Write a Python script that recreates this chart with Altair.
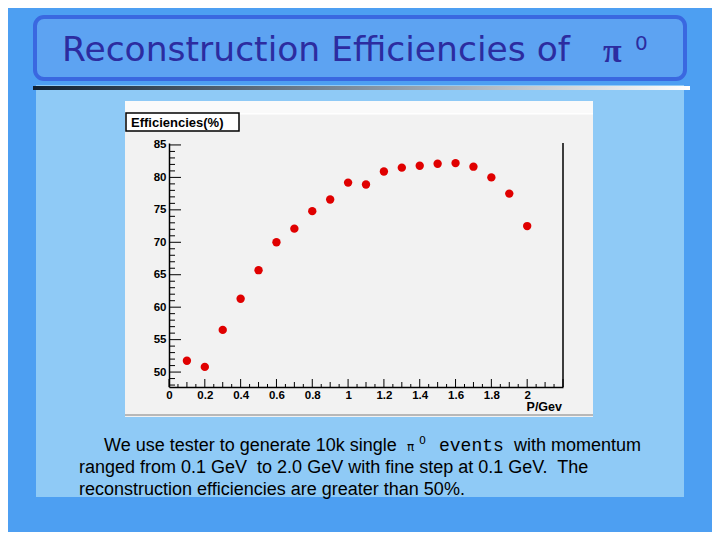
import altair as alt
import pandas as pd

# ---- data ----
momentum = [0.1, 0.2, 0.3, 0.4, 0.5, 0.6, 0.7, 0.8, 0.9, 1.0,
            1.1, 1.2, 1.3, 1.4, 1.5, 1.6, 1.7, 1.8, 1.9, 2.0]
efficiency = [51.75, 50.8, 56.5, 61.3, 65.7, 70.0, 72.1, 74.8, 76.6, 79.2,
              78.9, 80.9, 81.5, 81.8, 82.1, 82.2, 81.65, 80.0, 77.5, 72.5]

x_labels = [0, 0.2, 0.4, 0.6, 0.8, 1.0, 1.2, 1.4, 1.6, 1.8, 2.0]
y_labels = [50, 55, 60, 65, 70, 75, 80, 85]
x_major_ticks = [0, 0.2, 0.4, 0.6, 0.8, 1.0, 1.2, 1.4, 1.6, 1.8, 2.0, 2.2]
x_mid_ticks = [0.1, 0.3, 0.5, 0.7, 0.9, 1.1, 1.3, 1.5, 1.7, 1.9, 2.1]
x_minor_ticks = [0.05, 0.15, 0.25, 0.35, 0.45, 0.55, 0.65, 0.75, 0.85, 0.95,
                 1.05, 1.15, 1.25, 1.35, 1.45, 1.55, 1.65, 1.75, 1.85, 1.95,
                 2.05, 2.15]
y_minor_ticks = [48, 49, 51, 52, 53, 54, 56, 57, 58, 59, 61, 62, 63, 64,
                 66, 67, 68, 69, 71, 72, 73, 74, 76, 77, 78, 79, 81, 82, 83, 84]

title_text = "Reconstruction Efficiencies of"
panel_title = "Efficiencies(%)"
x_title = "P/Gev"
body_1a = "We use tester to generate 10k single"
body_1b = "events"
body_1c = "with momentum"
body_2 = "ranged from 0.1 GeV\u00a0 to 2.0 GeV with fine step at 0.1 GeV.\u00a0 The"
body_3 = "reconstruction efficiencies are greater than 50%."

# ---- geometry (plot area origin at page (169,143)) ----
W, H = 394, 244
OX, OY = 169, 143
XD = [0, 2.2]
YD = [47.7, 85.3]

def px(v):
    return alt.value(v - OX)

def py(v):
    return alt.value(v - OY)

one = pd.DataFrame({"a": [0]})
xs = alt.Scale(domain=XD, nice=False, zero=False)
ys = alt.Scale(domain=YD, nice=False, zero=False)

x_axis = alt.Axis(
    values=x_labels, ticks=False, grid=False, title=None, zindex=2,
    labelFont="Liberation Sans", labelFontWeight="bold", labelFontSize=11.5,
    labelColor="#000000", labelPadding=2, labelFlush=False,
    labelExpr="datum.value == 0 ? '0' : format(datum.value, '~g')",
    domainColor="#000000", domainWidth=1.5)
y_axis = alt.Axis(
    values=y_labels, ticks=False, grid=False, title=None, zindex=2,
    labelFont="Liberation Sans", labelFontWeight="bold", labelFontSize=11.5,
    labelColor="#000000", labelPadding=3,
    domainColor="#000000", domainWidth=1.5)

def rect(x1, x2, y1, y2, **kw):
    return alt.Chart(one).mark_rect(**kw).encode(
        x=px(x1), x2=px(x2), y=py(y1), y2=py(y2))

def text(t, x, y, **kw):
    return alt.Chart(one).mark_text(text=t, **kw).encode(x=px(x), y=py(y))

inner_bg = rect(36, 684, 85, 497, color="#8fcaf6")
title_box = rect(35, 685, 17, 79, fill="#5da3f2", stroke="#3a68e0",
                 strokeWidth=4, cornerRadius=9)
grad = rect(33, 690, 86, 90, fill=alt.LinearGradient(
    gradient="linear", x1=0, x2=1, y1=0, y2=0,
    stops=[alt.GradientStop(color="#102030", offset=0),
           alt.GradientStop(color="#8090a0", offset=0.5),
           alt.GradientStop(color="#ffffff", offset=1)]))
title_t = text(title_text, 62, 51, align="left", baseline="middle",
               font="DejaVu Sans", fontSize=34.5, color="#2c2ca0")
pi_t = text("π", 603, 52, align="left", baseline="middle",
            font="Liberation Serif", fontWeight="bold", fontSize=34, color="#2c2ca0")
zero_t = text("0", 635, 44, align="left", baseline="middle",
              font="DejaVu Sans", fontSize=20, color="#2c2ca0")

panel = rect(125, 593, 101, 417, color="#f2f2f2")
panel_top = rect(125, 593, 101, 113, color="#fafafa")
panel_line = rect(125, 593, 113, 114.5, color="#ffffff")
panel_bot = rect(125, 593, 414, 416, color="#b8b8b8")
eff_box = rect(126, 239, 113, 131, fill="#ffffff", stroke="#000000", strokeWidth=1.5)
eff_t = text(panel_title, 131, 122.5, align="left", baseline="middle",
             font="Liberation Sans", fontWeight="bold", fontSize=13, color="#000000")

pts_df = pd.DataFrame({"x": momentum, "y": efficiency})
points = alt.Chart(pts_df).mark_point(filled=True, color="#e00000", size=70,
                                      opacity=1, shape="circle").encode(
    x=alt.X("x:Q", scale=xs, axis=x_axis),
    y=alt.Y("y:Q", scale=ys, axis=y_axis),
)

def yticks(vals, length):
    return alt.Chart(pd.DataFrame({"y": vals})).mark_rule(
        color="#000000", strokeWidth=1).encode(
        y=alt.Y("y:Q", scale=ys, axis=y_axis),
        x=alt.value(0), x2=alt.value(length))

def xticks(vals, length):
    return alt.Chart(pd.DataFrame({"x": vals})).mark_rule(
        color="#000000", strokeWidth=1).encode(
        x=alt.X("x:Q", scale=xs, axis=x_axis),
        y=alt.value(H), y2=alt.value(H - length))

right_frame = alt.Chart(one).mark_rule(color="#000000", strokeWidth=1.5).encode(
    x=alt.value(W), y=alt.value(0), y2=alt.value(H))

xt = text(x_title, 562, 407, align="right", baseline="middle",
          font="Liberation Sans", fontWeight="bold", fontSize=12.5, color="#000000")

b1a = text(body_1a, 104, 446, align="left", baseline="middle",
           font="Liberation Sans", fontSize=18, color="#000000")
b1pi = text("π", 407, 447, align="left", baseline="middle",
            font="DejaVu Sans", fontSize=12, color="#000000")
b1z = text("0", 419, 441, align="left", baseline="middle",
           font="DejaVu Sans", fontSize=11, color="#000000")
b1b = text(body_1b, 439, 446, align="left", baseline="middle",
           font="Liberation Mono", fontSize=18, color="#000000")
b1c = text(body_1c, 514, 446, align="left", baseline="middle",
           font="Liberation Sans", fontSize=18, color="#000000")
b2 = text(body_2, 79, 468, align="left", baseline="middle",
          font="Liberation Sans", fontSize=18, color="#000000")
b3 = text(body_3, 79, 490, align="left", baseline="middle",
          font="Liberation Sans", fontSize=18, color="#000000")

chart = alt.layer(
    inner_bg, title_box, grad, title_t, pi_t, zero_t,
    panel, panel_top, panel_line, panel_bot, eff_box, eff_t,
    points,
    yticks(y_labels, 12), yticks(y_minor_ticks, 6),
    xticks(x_major_ticks, 8), xticks(x_mid_ticks, 5), xticks(x_minor_ticks, 3),
    right_frame, xt,
    b1a, b1pi, b1z, b1b, b1c, b2, b3,
).properties(
    width=W, height=H,
    autosize=alt.AutoSizeParams(type="none"),
    padding={"left": OX - 8, "top": OY - 8, "right": 712 - OX - W, "bottom": 532 - OY - H},
    background="#4d9ff2",
).configure_view(stroke=None)

chart.save("out.html", embed_options={"renderer": "svg", "actions": False})
